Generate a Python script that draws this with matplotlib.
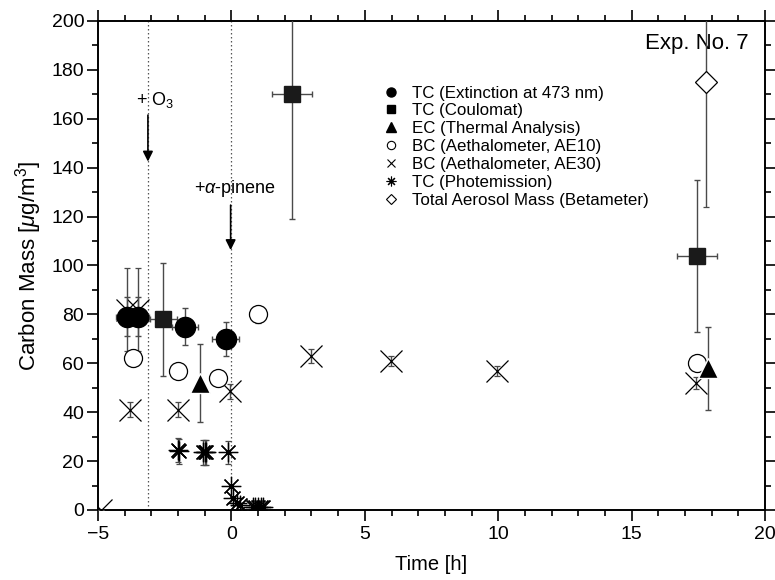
import matplotlib
matplotlib.use("Agg")
import matplotlib.pyplot as plt
from matplotlib.lines import Line2D
from matplotlib.ticker import MultipleLocator

plt.rcParams['font.family'] = ['Liberation Sans', 'DejaVu Sans']
plt.rcParams['mathtext.fontset'] = 'custom'
plt.rcParams['mathtext.rm'] = 'Liberation Sans'
plt.rcParams['mathtext.it'] = 'Liberation Sans:italic'

# TC (Extinction at 473 nm)
tc_ext_t = [-3.93, -3.5, -1.74, -0.21]
tc_ext_m = [79, 79, 75, 70]
tc_ext_terr = [0.4, 0.4, 0.5, 0.5]
tc_ext_merr = [8, 8, 7.5, 7]

# TC (Coulomat)
tc_coul_t = [-2.55, 2.28, 17.44]
tc_coul_m = [78, 170, 104]
tc_coul_terr = [0.5, 0.75, 0.75]
tc_coul_merr = [23, 51, 31]

# EC (Thermal Analysis)
ec_t = [-1.18, 17.88]
ec_m = [52, 58]
ec_merr = [16, 17]

# BC (Aethalometer, AE10)
bc10_t = [-3.68, -1.99, -0.49, 1.0, 17.44]
bc10_m = [62, 57, 54, 80, 60]
bc10_merr = [2.5, 2.5, 2.5, 3.5, 2]

# BC (Aethalometer, AE30)
bc30_t = [-4.9, -3.9, -3.5, -3.8, -1.99, -0.05, 2.98, 5.98, 9.95, 17.4]
bc30_m = [0, 82, 82, 41, 41, 48.5, 63, 61, 57, 52]
bc30_merr = [0, 17, 17, 3, 3, 3, 3, 2, 2, 2.5]

# TC (Photemission)
tc_pe_t = [-2.0, -1.95, -1.05, -1.0, -0.95, -0.12, -0.02, 0.07, 0.2, 0.32,
           0.8, 0.9, 1.0, 1.1, 1.2]
tc_pe_m = [24.5, 24, 23.6, 23.6, 23.6, 23.6, 10, 4.8, 2.7, 2, 1.1, 1.1, 1.1, 1.1, 1.1]
tc_pe_merr = [5, 5, 5, 5, 5, 4.7, 0, 0, 0, 0, 0, 0, 0, 0, 0]

# Total Aerosol Mass (Betameter)
tam_t = [17.77]
tam_m = [175]
tam_merr = [51]

o3_time = -3.13
pinene_time = 0.0

fig = plt.figure(figsize=(7.75, 5.8), dpi=100)
ax = fig.add_axes([0.1265, 0.1207, 0.8606, 0.8431])

ecol = '#4a4a4a'
ekw = dict(ecolor=ecol, elinewidth=1.0, capsize=2.5, capthick=1.0, linestyle='none')

ax.axvline(o3_time, color='#555555', lw=0.9, ls=(0, (1.2, 2)), zorder=1)
ax.axvline(pinene_time, color='#555555', lw=0.9, ls=(0, (1.2, 2)), zorder=1)

ax.errorbar(tc_coul_t, tc_coul_m, xerr=tc_coul_terr, yerr=tc_coul_merr, marker='s',
            ms=12, mfc='#1a1a1a', mec='#1a1a1a', zorder=4, **ekw)
ax.errorbar(tam_t, tam_m, yerr=tam_merr, marker='D', ms=11, mfc='white',
            mec='black', mew=0.9, zorder=4, **ekw)
ax.errorbar(bc30_t, bc30_m, yerr=bc30_merr, marker='x', ms=16.5, mec='black',
            mew=0.9, zorder=3, **ekw)
ax.errorbar(bc10_t, bc10_m, yerr=bc10_merr, marker='o', ms=13, mfc='white',
            mec='black', mew=0.9, zorder=4, **ekw)
ax.errorbar(tc_pe_t, tc_pe_m, yerr=tc_pe_merr, marker=(8, 2, 0), ms=14,
            mec='black', mew=0.9, zorder=3, **ekw)
ax.errorbar(ec_t, ec_m, yerr=ec_merr, marker='^', ms=15, mfc='black',
            mec='white', mew=1.0, zorder=5, **ekw)
ax.errorbar(tc_ext_t, tc_ext_m, xerr=tc_ext_terr, yerr=tc_ext_merr, marker='o',
            ms=14.5, mfc='black', mec='black', zorder=5, **ekw)

ax.set_xlim(-5, 20)
ax.set_ylim(0, 200)
ax.xaxis.set_major_locator(MultipleLocator(5))
ax.xaxis.set_minor_locator(MultipleLocator(1))
ax.yaxis.set_major_locator(MultipleLocator(20))
ax.yaxis.set_minor_locator(MultipleLocator(10))
ax.tick_params(which='both', direction='out', top=True, right=True,
               labeltop=False, labelright=False, width=1.2, labelsize=14)
ax.tick_params(which='major', length=8)
ax.tick_params(which='minor', length=4.5)
ax.tick_params(axis='y', which='major', pad=2)
for s in ax.spines.values():
    s.set_linewidth(1.4)

ax.set_xlabel('Time [h]', fontsize=14.5, labelpad=9)
ax.set_ylabel(r'Carbon Mass [$\mu$g/m$^3$]', fontsize=16, labelpad=5)

# event markers
ax.text(o3_time + 0.25, 167.5, r'+ O$_3$', fontsize=13, ha='center', va='center')
ax.annotate('', xy=(o3_time, 142.5), xytext=(o3_time, 161.5),
            arrowprops=dict(arrowstyle='-|>', color='black', lw=1.2,
                            mutation_scale=15, shrinkA=0, shrinkB=0))
ax.text(pinene_time + 0.15, 131.3, r'+$\alpha$-pinene', fontsize=13, ha='center', va='center')
ax.annotate('', xy=(pinene_time - 0.03, 106.3), xytext=(pinene_time - 0.03, 124.7),
            arrowprops=dict(arrowstyle='-|>', color='black', lw=1.2,
                            mutation_scale=15, shrinkA=0, shrinkB=0))

ax.text(0.976, 0.955, 'Exp. No. 7', transform=ax.transAxes, fontsize=16,
        ha='right', va='center')

handles = [
    Line2D([], [], ls='none', marker='o', ms=6.5, mfc='black', mec='black'),
    Line2D([], [], ls='none', marker='s', ms=6, mfc='black', mec='black'),
    Line2D([], [], ls='none', marker='^', ms=7, mfc='black', mec='black'),
    Line2D([], [], ls='none', marker='o', ms=6, mfc='white', mec='black', mew=0.8),
    Line2D([], [], ls='none', marker='x', ms=6, mec='black', mew=0.8),
    Line2D([], [], ls='none', marker=(8, 2, 0), ms=7, mec='black', mew=0.8),
    Line2D([], [], ls='none', marker='D', ms=5.5, mfc='white', mec='black', mew=0.8),
]
labels = ['TC (Extinction at 473 nm)', 'TC (Coulomat)', 'EC (Thermal Analysis)',
          'BC (Aethalometer, AE10)', 'BC (Aethalometer, AE30)', 'TC (Photemission)',
          'Total Aerosol Mass (Betameter)']
ax.legend(handles, labels, loc='upper left', bbox_to_anchor=(0.426, 0.868),
          frameon=False, fontsize=12.2, handlelength=1.0, handletextpad=0.75,
          labelspacing=0.17, borderpad=0, borderaxespad=0)

fig.savefig('out.png', dpi=100)
